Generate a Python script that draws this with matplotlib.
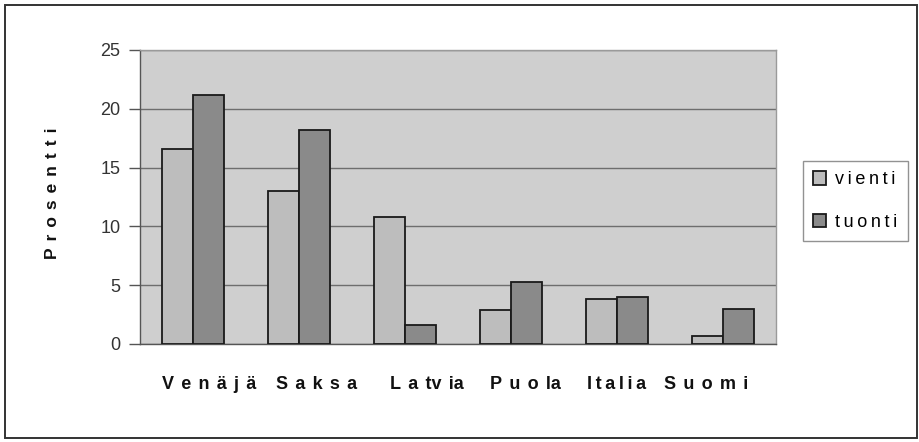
import matplotlib
matplotlib.use("Agg")
import matplotlib.pyplot as plt
import matplotlib.transforms as mtransforms
import numpy as np
from matplotlib.patches import Rectangle

T = "\u2009"
TT = T + T
categories = ["Venäjä", "Saksa", "Latvia", "Puola", "Italia", "Suomi"]
vienti = [16.6, 13.0, 10.8, 2.9, 3.8, 0.7]
tuonti = [21.2, 18.2, 1.6, 5.3, 4.0, 3.0]
yticks = [0, 5, 10, 15, 20, 25]
# tick label strings as typeset (letter spaced) in the original
xticklabels = [TT.join("Venäjä"), TT.join("Saksa"), TT.join(["L", "a", "tv", "ia"]),
               TT.join(["P", "u", "o", "la"]), T.join("Italia"), TT.join("Suomi")]

plt.rcParams['font.family'] = ['Liberation Sans', 'DejaVu Sans']

fig = plt.figure(figsize=(9.2, 4.42), dpi=100)
fig.patch.set_facecolor('white')
ax = fig.add_axes([140/920, 1-344/442, 636/920, 294/442])
ax.set_facecolor('#cfcfcf')

x = np.arange(len(categories))
w = 0.29
ax.bar(x - w/2, vienti, w, color='#bdbdbd', edgecolor='#1a1a1a', linewidth=1.3,
       label=T.join("vienti"), zorder=3)
ax.bar(x + w/2, tuonti, w, color='#8a8a8a', edgecolor='#1a1a1a', linewidth=1.3,
       label=T.join("tuonti"), zorder=3)

ax.set_xlim(-0.5, len(categories) - 0.5)
ax.set_ylim(0, 25)
ax.set_yticks(yticks)
ax.set_yticklabels([str(v) for v in yticks], fontsize=13, color='#333333')
ax.yaxis.grid(True, color='#6e6e6e', linewidth=1.0, zorder=0)
ax.set_axisbelow(True)
ax.tick_params(axis='y', length=8, width=1, color='#555555', pad=6)
ax.set_xticks(x)
ax.set_xticklabels(xticklabels, fontsize=13, fontweight='bold', color='#111111')
ax.tick_params(axis='x', length=0, pad=23)

# the original's category labels sit slightly off-centre
label_dx_px = [16, 18, 22, 14, 0, -17]
for lab, dx in zip(ax.get_xticklabels(), label_dx_px):
    lab.set_transform(lab.get_transform() + mtransforms.ScaledTranslation(dx/100, 0, fig.dpi_scale_trans))

for s in ['left', 'bottom']:
    ax.spines[s].set_color('#555555')
    ax.spines[s].set_linewidth(1.0)
for s in ['top', 'right']:
    ax.spines[s].set_color('#9a9a9a')
    ax.spines[s].set_linewidth(1.0)

fig.text(53/920, 1-193/442, TT.join("Prosentti"), rotation=90, fontsize=12.5,
         fontweight='bold', color='#111111', ha='center', va='center')

leg = ax.legend(loc='center left', bbox_to_anchor=(803/920, 1-201/442), bbox_transform=fig.transFigure,
                frameon=True, fancybox=False, fontsize=13, handlelength=0.75, handleheight=0.75,
                handletextpad=0.5, labelspacing=1.4, borderpad=0.55, borderaxespad=0)
leg.get_frame().set_edgecolor('#777777')
leg.get_frame().set_linewidth(1.0)
leg.get_frame().set_facecolor('white')

fig.patches.append(Rectangle((5/920, 4/442), 912/920, 433/442, transform=fig.transFigure,
                             fill=False, edgecolor='#333333', linewidth=1.4))

fig.savefig('out.png', dpi=100)
